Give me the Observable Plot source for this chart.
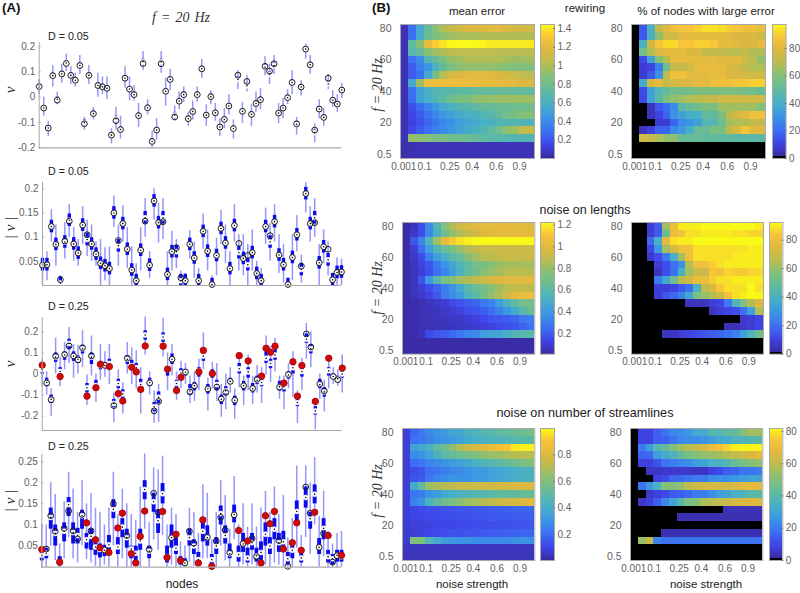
<!DOCTYPE html>
<html><head><meta charset="utf-8">
<script src="https://cdn.jsdelivr.net/npm/d3@7"></script>
<script src="https://cdn.jsdelivr.net/npm/@observablehq/plot@0.6"></script>
<style>
html,body{margin:0;padding:0;background:#fff}
#root{position:relative;width:800px;height:593px;overflow:hidden;font-family:"Liberation Sans",Arial,sans-serif}
#root svg{position:absolute;background:transparent;overflow:visible}
</style></head><body><div id="root"></div>
<script>
// ---------- Panel A data ----------
const v=[.042,-.043,-.122,.085,-.012,.092,.133,.086,.067,.125,-.105,.086,-.065,.046,.041,.035,-.15,-.093,-.128,.075,.032,.01,-.073,.133,-.042,-.175,-.13,.132,.023,.07,-.078,-.016,.01,-.085,-.057,.01,.112,-.071,.002,-.062,-.118,-.088,-.035,-.124,.087,-.056,.062,-.068,-.025,-.01,.122,.103,.132,-.063,-.043,-.002,.058,-.105,.04,.19,.128,-.13,-.047,-.08,.075,-.012,-.027,.028];
const redNodes=[0,4,10,12,13,15,17,18,20,21,22,23,27,28,30,31,35,36,38,44,46,49,50,51,52,54,56,57,58,61,64,67];

const p1Med=[.04,-.043,-.122,.085,-.008,.092,.135,.086,.067,.125,-.1,.086,-.065,.046,.041,.035,-.15,-.085,-.128,.075,.032,.01,-.073,.14,-.042,-.175,-.13,.14,.023,.07,-.07,-.015,.01,-.085,-.057,.01,.112,-.071,.002,-.062,-.118,-.088,-.035,-.124,.07,-.056,.045,-.068,-.025,-.01,.118,.09,.125,-.063,-.043,-.002,.058,-.107,.04,.19,.128,-.14,-.047,-.08,.052,-.012,-.027,.028];
const p1Lo=[.01,-.075,-.155,.04,-.03,.055,.1,.05,.04,.09,-.13,.05,-.09,0,.01,-.01,-.185,-.13,-.165,.035,-.015,-.015,-.12,.105,-.07,-.2,-.17,.095,-.035,.025,-.095,-.05,-.02,-.115,-.09,-.02,.075,-.115,-.03,-.095,-.155,-.125,-.07,-.165,.03,-.105,.02,-.115,-.06,-.05,.085,.05,.09,-.105,-.085,-.03,.01,-.15,.005,.15,.09,-.18,-.085,-.115,.03,-.04,-.06,-.005];
const p1Hi=[.07,0,-.095,.125,.02,.13,.17,.12,.095,.165,-.08,.125,-.04,.095,.08,.08,-.125,-.04,-.075,.12,.08,.045,-.025,.18,-.01,-.135,-.085,.18,.075,.11,-.035,.02,.04,-.06,-.015,.04,.15,-.03,.025,-.025,-.085,-.045,.01,-.09,.105,-.02,.085,-.03,.02,.035,.16,.13,.165,-.025,-.005,.03,.105,-.08,.065,.21,.165,-.105,-.01,-.045,.09,.025,.01,.055];

const p2Med=[.043,.043,.122,.085,.005,.09,.135,.086,.067,.125,.095,.086,.065,.046,.041,.035,.15,.082,.128,.075,.032,.01,.073,.14,.042,.175,.13,.14,.023,.07,.07,.01,.01,.085,.057,.01,.112,.071,.002,.062,.118,.088,.035,.124,.068,.056,.043,.068,.025,.01,.122,.09,.132,.063,.043,.002,.058,.105,.033,.19,.128,.14,.047,.08,.053,.012,.027,.028];
const p2Lo=[0,.01,.09,.04,0,.055,.1,.05,.04,.085,.06,.05,.04,0,.01,0,.12,.04,.09,.035,0,0,.03,.1,.015,.135,.088,.095,0,.03,.035,0,0,.055,.015,0,.075,.03,0,.02,.085,.045,0,.09,.03,.02,0,.03,0,0,.085,.05,.09,.025,.005,0,.01,.07,.005,.15,.09,.1,0,.045,.02,0,0,0];
const p2Hi=[.06,.07,.157,.125,.02,.13,.168,.12,.095,.163,.135,.125,.09,.095,.078,.08,.185,.125,.165,.12,.08,.045,.12,.18,.07,.2,.17,.18,.07,.112,.095,.03,.025,.113,.09,.035,.148,.115,.02,.098,.155,.125,.07,.167,.105,.105,.085,.115,.05,.035,.16,.128,.167,.105,.085,.012,.105,.145,.063,.213,.163,.18,.085,.115,.09,.025,.057,.055];

const p3Med=[.02,-.04,-.12,.08,.012,.09,.145,.085,.07,.12,-.065,.08,-.055,.04,.04,.05,-.14,-.045,-.095,.07,.04,.03,-.05,.185,-.04,-.155,-.11,.175,.02,.07,-.045,.005,.008,-.08,-.055,.015,.085,-.07,0,-.05,-.12,-.08,-.035,-.125,.025,-.055,.01,-.07,-.03,-.04,.075,.05,.09,-.06,-.06,-.005,.03,-.135,.012,.165,.12,-.175,-.05,-.085,.015,-.012,-.022,0];
const p3Q1=[0,-.06,-.14,.055,-.01,.065,.115,.06,.05,.095,-.09,.045,-.08,.02,.025,.03,-.16,-.07,-.12,.045,.02,.01,-.07,.16,-.06,-.18,-.14,.15,-.01,.045,-.07,-.02,-.01,-.1,-.08,-.015,.06,-.095,-.02,-.08,-.145,-.1,-.05,-.15,0,-.08,-.02,-.09,-.05,-.06,.05,.025,.065,-.08,-.085,-.025,0,-.155,-.015,.145,.095,-.195,-.07,-.11,-.01,-.025,-.035,-.02];
const p3Q3=[.04,-.02,-.1,.1,.03,.105,.165,.105,.085,.135,-.045,.1,-.03,.06,.055,.07,-.12,-.025,-.075,.085,.065,.05,-.025,.205,-.02,-.135,-.085,.195,.035,.095,-.03,.025,.02,-.05,-.04,.03,.105,-.05,.02,-.03,-.1,-.06,-.02,-.105,.05,-.035,.03,-.045,-.01,-.02,.105,.07,.115,-.035,-.035,.01,.06,-.11,.035,.19,.14,-.155,-.025,-.065,.03,0,-.01,.015];
const p3Lo=[-.06,-.1,-.2,0,-.06,.02,.05,-.02,0,.03,-.15,-.01,-.135,-.03,-.015,-.05,-.23,-.12,-.19,0,-.05,-.07,-.19,.09,-.1,-.235,-.23,.08,-.08,-.01,-.125,-.07,-.05,-.14,-.13,-.08,.02,-.175,-.07,-.13,-.205,-.17,-.09,-.215,-.065,-.15,-.08,-.145,-.09,-.14,-.005,-.04,.01,-.12,-.17,-.07,-.11,-.235,-.08,.07,.03,-.265,-.12,-.18,-.07,-.05,-.06,-.09];
const p3Hi=[.07,.01,-.07,.17,.08,.15,.22,.14,.135,.205,-.005,.18,0,.14,.105,.14,-.09,.02,-.04,.15,.125,.11,.03,.27,.01,-.08,-.05,.265,.1,.14,.01,.06,.05,-.01,.01,.07,.195,-.02,.055,.05,-.05,0,.03,-.07,.1,-.01,.09,-.01,.04,.03,.18,.13,.17,-.01,-.01,.05,.105,-.08,.075,.24,.2,-.13,0,-.03,.085,.03,.02,.09];

const p4Med=[.028,.033,.118,.08,.012,.085,.148,.082,.075,.122,.065,.073,.048,.042,.04,.053,.137,.048,.095,.07,.043,.033,.062,.184,.038,.155,.11,.174,.025,.07,.045,.015,.01,.07,.05,.018,.085,.07,.018,.05,.127,.075,.032,.125,.03,.055,.022,.058,.027,.035,.078,.05,.09,.058,.06,.02,.04,.132,.022,.165,.115,.173,.047,.092,.025,.02,.028,.025];
const p4Q1=[.015,.02,.09,.05,.003,.06,.12,.055,.055,.09,.043,.04,.028,.022,.025,.03,.115,.03,.07,.045,.02,.01,.04,.16,.02,.13,.08,.15,.01,.045,.03,.005,.003,.05,.03,.005,.06,.05,.003,.03,.1,.055,.02,.105,.012,.035,.01,.04,.012,.015,.05,.03,.065,.035,.035,.005,.02,.11,.01,.14,.09,.15,.03,.065,.01,.005,.012,.012];
const p4Q3=[.045,.045,.14,.1,.025,.105,.165,.105,.092,.135,.08,.09,.065,.055,.052,.075,.16,.07,.115,.09,.05,.05,.09,.205,.05,.175,.135,.198,.05,.1,.07,.025,.02,.09,.065,.035,.105,.098,.03,.07,.145,.098,.055,.147,.05,.08,.045,.08,.045,.06,.105,.07,.115,.08,.085,.035,.06,.157,.04,.19,.13,.195,.068,.115,.04,.03,.04,.04];
const p4Lo=[0,0,.05,.015,0,.02,.07,.02,.01,.05,.018,.01,.002,0,.005,0,.05,0,.02,0,0,0,0,.09,0,.065,.04,.075,0,.005,0,0,0,.012,.002,0,.02,.02,0,0,.05,.015,0,.065,0,.005,0,.005,0,0,.005,0,.01,.005,0,0,0,.045,0,.07,.03,.1,0,.025,0,0,0,0];
const p4Hi=[.1,.1,.2,.172,.055,.155,.225,.185,.13,.205,.15,.175,.14,.13,.1,.14,.225,.125,.185,.15,.125,.11,.19,.268,.105,.235,.23,.263,.1,.14,.125,.06,.05,.14,.13,.08,.195,.175,.065,.13,.205,.17,.09,.215,.1,.15,.095,.15,.095,.14,.18,.13,.19,.125,.17,.07,.115,.24,.075,.24,.2,.26,.12,.18,.085,.055,.08,.085];

// ---------- Panel B data ----------
const freqLabels=["80","75","70","65","60","55","50","45","40","35","30","25","20","15","10","5","0.5"];
const yTickLabels=["80","60","40","20","0.5"];
const noiseLabels=["0.001","0.1","0.25","0.4","0.6","0.9"];
const noiseTickCols=[.42,3.04,6.25,9.1,12.15,15.1];

const rewiringMean=[
[.05,.3,.55,.75,.88,1,1.05,1.1,1.15,1.15,1.17,1.18,1.18,1.15,1.13,1.12,1.1],
[.05,.3,.55,.78,.85,.9,.95,.97,.98,.98,1,1,1,1,1,1,1],
[.05,.72,.9,1.22,1.32,1.38,1.43,1.44,1.44,1.44,1.42,1.4,1.4,1.4,1.4,1.4,1.4],
[.05,.68,.75,.9,.95,1,1.03,1.05,1.05,1.05,1.05,1.05,1.03,1.02,1.02,1.03,1.03],
[.05,.3,.4,.65,.75,.85,.92,.95,1,1,1,1,1,.98,.95,.95,.97],
[.05,.22,.35,.45,.6,.75,.85,.9,.92,.92,.92,.92,.9,.88,.87,.87,.87],
[.05,.22,.3,.55,.8,1.02,1.13,1.15,1.18,1.18,1.18,1.17,1.15,1.12,1.1,1.05,1.03],
[.05,.55,.95,1.25,1.25,1.25,1.25,1.25,1.25,1.24,1.22,1.22,1.2,1.2,1.18,1.15,1.15],
[.05,.3,.5,.6,.65,.68,.7,.72,.72,.74,.75,.75,.75,.75,.75,.73,.73],
[.05,.28,.5,.58,.65,.72,.8,.85,.85,.9,.92,.93,.95,.95,.95,.95,.95],
[.05,.18,.28,.38,.45,.55,.6,.65,.68,.72,.75,.75,.78,.78,.8,.8,.8],
[.05,.15,.22,.3,.38,.45,.5,.55,.58,.6,.65,.68,.75,.8,.85,.88,.88],
[.05,.12,.18,.25,.32,.38,.42,.48,.52,.55,.58,.6,.65,.65,.65,.65,.62],
[.05,.15,.22,.3,.35,.4,.45,.5,.55,.6,.65,.72,.8,.9,.95,1.05,1.08],
[.05,.92,.9,.88,.85,.85,.8,.8,.78,.75,.72,.7,.7,.68,.65,.65,.65],
[.03,.04,.05,.05,.05,.05,.05,.05,.05,.05,.05,.05,.05,.05,.05,.05,.05],
[.03,.04,.04,.04,.04,.04,.04,.04,.04,.04,.04,.04,.04,.04,.04,.04,.04]];
const rewiringPct=[
[0,15,42,72,80,85,87,88,90,93,93,92,90,88,85,85,83],
[0,15,42,62,75,75,80,80,82,82,82,82,80,78,78,78,75],
[0,42,75,88,92,92,88,88,90,90,88,82,82,80,78,78,82],
[0,55,68,78,80,82,82,78,78,72,72,72,70,70,72,68,68],
[0,12,35,60,70,82,82,82,82,80,80,78,80,80,75,70,62],
[0,8,10,25,55,72,72,75,82,83,83,83,78,76,72,68,68],
[0,8,15,30,72,85,85,82,80,80,82,82,78,78,76,75,75],
[0,38,78,82,72,75,78,78,80,80,85,85,85,88,88,90,90],
[0,12,35,45,52,55,55,55,58,58,58,58,58,58,55,55,52],
[0,12,35,48,58,62,65,68,70,72,72,75,75,75,75,75,75],
[0,0,5,15,20,28,48,52,55,58,58,65,65,65,65,65,60],
[0,0,5,10,18,30,35,40,40,50,50,58,72,76,80,85,85],
[0,0,0,8,8,18,28,30,35,45,45,55,65,68,68,72,72],
[0,5,10,18,18,28,32,40,52,52,58,58,70,78,88,80,80],
[0,75,72,68,62,62,52,52,52,50,50,50,50,48,48,48,48],
[0,0,0,0,0,0,0,0,0,0,0,0,0,0,0,0,0],
[0,0,0,0,0,0,0,0,0,0,0,0,0,0,0,0,0]];
const lengthsMean=[
[.02,.06,.15,.35,.55,.75,.85,.95,.98,1,1.02,1.03,1.03,1.03,1.02,1.02,1],
[.02,.08,.15,.33,.5,.68,.78,.85,.9,.95,.98,1,1.02,1.02,1.03,1.02,1.02],
[.02,.18,.32,.55,.82,1.03,1.12,1.17,1.2,1.22,1.22,1.22,1.22,1.22,1.22,1.22,1.22],
[.02,.1,.25,.42,.55,.65,.72,.8,.85,.9,.92,.92,.92,.93,.93,.93,.93],
[.02,.08,.15,.3,.42,.5,.6,.65,.75,.82,.87,.88,.9,.92,.92,.92,.92],
[.02,.06,.12,.18,.28,.38,.45,.55,.62,.7,.72,.75,.8,.82,.82,.83,.83],
[.02,.06,.1,.16,.25,.32,.42,.52,.62,.68,.75,.8,.82,.87,.88,.88,.88],
[.02,.06,.18,.38,.58,.72,.75,.82,.85,.9,.92,.97,.98,1,1,1,1],
[.02,.06,.1,.16,.22,.3,.38,.48,.58,.65,.7,.75,.82,.87,.9,.9,.88],
[.02,.05,.08,.12,.18,.3,.35,.42,.52,.62,.7,.78,.85,.95,1.02,1.05,1.05],
[.02,.03,.04,.06,.08,.1,.14,.17,.2,.22,.28,.32,.42,.52,.62,.7,.7],
[.02,.03,.04,.05,.06,.08,.1,.12,.15,.17,.2,.25,.32,.4,.48,.58,.65],
[.02,.03,.04,.05,.06,.06,.08,.08,.1,.12,.14,.17,.18,.2,.22,.28,.3],
[.02,.03,.04,.04,.05,.05,.06,.07,.08,.09,.1,.12,.14,.16,.18,.22,.26],
[.02,.03,.05,.14,.18,.2,.24,.28,.32,.35,.42,.45,.45,.5,.55,.58,.6],
[.02,.02,.02,.02,.02,.02,.02,.02,.02,.02,.02,.02,.02,.02,.02,.02,.02],
[.02,.02,.02,.02,.02,.02,.02,.02,.02,.02,.02,.02,.02,.02,.02,.02,.02]];
const lengthsPct=[
[0,0,8,15,62,80,90,90,90,92,92,92,92,92,92,92,90],
[0,0,8,15,50,80,82,88,88,90,90,90,90,88,88,86,86],
[0,0,18,38,76,88,90,90,92,92,92,92,92,92,92,92,92],
[0,0,10,30,62,72,80,82,88,88,88,88,88,88,88,90,90],
[0,0,6,12,22,38,62,80,88,88,88,88,88,90,90,90,90],
[0,0,0,8,12,20,28,65,80,82,85,88,90,90,90,90,90],
[0,0,0,5,12,20,38,62,70,70,84,82,86,85,84,86,86],
[0,0,0,22,35,52,66,72,78,80,85,88,88,90,90,90,90],
[0,0,0,8,8,10,15,20,40,68,74,84,88,88,88,92,88],
[0,0,0,8,14,18,24,35,55,60,65,70,82,88,90,92,92],
[0,0,0,0,0,0,0,5,5,5,8,10,22,42,55,65,75],
[0,0,0,0,0,0,0,0,0,0,5,8,10,12,20,32,65],
[0,0,0,0,0,0,0,0,0,0,0,0,0,0,6,8,10],
[0,0,0,0,0,0,0,0,0,0,0,0,4,4,6,8,10],
[0,0,0,0,5,5,8,10,12,14,16,17,20,24,32,42,52],
[0,0,0,0,0,0,0,0,0,0,0,0,0,0,0,0,0],
[0,0,0,0,0,0,0,0,0,0,0,0,0,0,0,0,0]];
const streamMean=[
[.08,.18,.22,.27,.3,.33,.36,.38,.42,.44,.46,.48,.5,.52,.53,.55,.58],
[.08,.2,.22,.25,.28,.3,.32,.35,.38,.4,.42,.43,.44,.45,.47,.48,.48],
[.08,.35,.38,.42,.5,.55,.62,.7,.75,.78,.82,.85,.88,.9,.96,.98,.98],
[.08,.28,.3,.35,.42,.48,.52,.55,.58,.6,.62,.65,.65,.68,.7,.7,.7],
[.08,.2,.22,.25,.28,.3,.33,.35,.38,.42,.44,.46,.48,.52,.55,.58,.6],
[.08,.12,.14,.2,.22,.24,.26,.28,.3,.32,.33,.35,.37,.38,.4,.42,.42],
[.08,.14,.15,.22,.26,.28,.3,.3,.3,.32,.33,.35,.37,.38,.4,.42,.42],
[.08,.38,.5,.65,.68,.7,.72,.75,.75,.76,.76,.76,.78,.78,.8,.8,.8],
[.08,.22,.24,.3,.33,.38,.4,.42,.44,.46,.46,.48,.5,.5,.5,.52,.52],
[.08,.25,.3,.42,.5,.55,.58,.62,.65,.68,.7,.73,.75,.77,.78,.8,.82],
[.08,.1,.11,.12,.12,.13,.13,.14,.14,.15,.15,.16,.16,.16,.17,.18,.18],
[.08,.1,.1,.11,.11,.12,.12,.13,.13,.14,.14,.15,.15,.15,.15,.16,.16],
[.07,.08,.08,.09,.1,.1,.1,.11,.11,.12,.12,.12,.13,.13,.13,.14,.14],
[.07,.08,.09,.1,.11,.12,.13,.13,.14,.14,.15,.16,.16,.17,.17,.18,.18],
[.07,.6,.6,.45,.38,.33,.32,.3,.3,.28,.28,.28,.28,.28,.3,.3,.3],
[.05,.05,.05,.05,.05,.05,.05,.05,.05,.05,.05,.05,.05,.05,.05,.05,.05],
[.04,.04,.04,.04,.04,.04,.04,.04,.04,.04,.04,.04,.04,.04,.04,.04,.04]];
const streamPct=[
[0,8,8,14,18,22,24,26,32,32,38,38,42,42,50,55,55],
[0,8,8,14,14,18,22,24,24,26,28,32,32,36,36,38,40],
[0,20,28,38,42,50,55,58,62,64,70,72,76,80,81,81,81],
[0,15,16,28,32,36,42,48,50,52,54,55,58,60,62,65,68],
[0,8,8,12,18,20,22,24,28,30,34,36,38,44,48,50,52],
[0,0,5,5,6,6,6,6,5,5,8,10,14,15,18,18,20],
[0,0,0,8,10,15,16,18,20,20,24,25,24,26,28,30,30],
[0,18,26,34,50,50,52,60,62,64,64,64,64,66,68,68,68],
[0,0,6,8,10,13,14,16,20,20,24,28,30,34,36,40,40],
[0,5,8,14,22,30,38,48,50,56,58,60,62,64,66,66,66],
[0,0,0,0,0,0,0,0,0,0,0,0,4,4,4,4,4],
[0,0,0,0,0,0,3,3,3,3,3,3,3,3,3,3,3],
[0,0,0,0,0,0,0,0,0,0,0,0,0,0,0,0,0],
[0,0,0,0,3,3,3,3,3,3,3,3,3,3,3,3,3],
[0,54,62,22,18,18,18,18,18,18,18,18,18,18,18,18,18],
[0,0,0,0,0,0,0,0,0,0,0,0,0,0,0,0,0],
[0,0,0,0,0,0,0,0,0,0,0,0,0,0,0,0,0]];

// ---------- helpers ----------
const root=document.getElementById("root");
const GRAY="#a8a8a8", TXT="#5f5f5f";
function place(svg,l,t){svg.style.left=l+"px";svg.style.top=t+"px";root.appendChild(svg);}

function nodePanel({med,q1,q3,lo,hi,ring,red,yDom,yPx,ticks,left,right,boxW}){
  const rows=med.map((m,i)=>({i,m,q1:q1(i),q3:q3(i),lo:lo[i],hi:hi[i],ring:ring[i]}));
  const [top,bottom]=yPx;
  const marks=[
    Plot.ruleX(rows,{x:"i",y1:"lo",y2:"hi",stroke:"#9696fb",strokeWidth:1.5}),
    Plot.ruleX(rows,{x:"i",y1:"q1",y2:"q3",stroke:"#0a0aee",strokeWidth:boxW}),
    Plot.dot(rows,{x:"i",y:"m",r:2.5,fill:"#fff",stroke:"#fff",strokeWidth:.6}),
    Plot.dot(rows,{x:"i",y:"m",r:.8,fill:"#000",stroke:"none"}),
    Plot.dot(rows,{x:"i",y:"ring",r:2.9,fill:"none",stroke:"#1c1c1c",strokeWidth:1}),
    Plot.dot(rows.filter(d=>red.includes(d.i)),{x:"i",y:"ring",r:3.3,fill:"#cf0a0a",stroke:"#a00",strokeWidth:.4}),
    Plot.axisY({ticks,tickFormat:d=>String(d),tickSize:-2,tickPadding:6,stroke:GRAY,fill:TXT,fontSize:10,fontFamily:"Liberation Sans",label:null}),
    Plot.ruleY([yDom[0]],{stroke:GRAY,strokeWidth:1.2}),
    Plot.frame({anchor:"left",stroke:GRAY})
  ];
  const svg=Plot.plot({width:360,height:bottom+2,marginLeft:left,marginRight:360-right,marginTop:top,marginBottom:2,
    style:{background:"transparent",overflow:"visible"},
    x:{domain:[0,67],axis:null},y:{domain:yDom,axis:null},marks});
  place(svg,0,0);
}

const absV=v.map(Math.abs);
nodePanel({med:p1Med,q1:i=>p1Med[i]-.01,q3:i=>p1Med[i]+.01,lo:p1Lo,hi:p1Hi,ring:v,red:[],yDom:[-.2,.216],yPx:[42,147.3],ticks:[-.2,-.1,0,.1,.2],left:38.7,right:341.3,boxW:3});
nodePanel({med:p2Med,q1:i=>Math.max(0,p2Med[i]-.013),q3:i=>p2Med[i]+.013,lo:p2Lo,hi:p2Hi,ring:absV,red:[],yDom:[0,.213],yPx:[182,285],ticks:[.05,.1,.15,.2],left:42,right:341,boxW:3.4});
nodePanel({med:p3Med,q1:i=>p3Q1[i],q3:i=>p3Q3[i],lo:p3Lo,hi:p3Hi,ring:v,red:redNodes,yDom:[-.268,.268],yPx:[317,430],ticks:[-.2,-.1,0,.1,.2],left:41.7,right:341.7,boxW:3.4});
nodePanel({med:p4Med,q1:i=>p4Q1[i],q3:i=>p4Q3[i],lo:p4Lo,hi:p4Hi,ring:absV,red:redNodes,yDom:[0,.267],yPx:[454,566.7],ticks:[.05,.1,.15,.2,.25],left:41.3,right:341,boxW:3.9});

// parula-like colour map
const parulaT=[0,.1,.2,.3,.4,.5,.6,.7,.8,.9,1];
const parulaC=["#3a2aa0","#3f45e8","#3c70f2","#3b94e6","#47afc8","#5fbaa0","#7fc07c","#b5bd52","#dcb840","#f7c33a","#f9fb15"];

function colorScale(min,max,hasBlack){
  let domain=parulaT.map(t=>min+t*(max-min)), range=parulaC.slice();
  if(hasBlack){
    const e=.015*(max-min);
    domain=parulaT.map(t=>e+t*(max-e));
    domain=[0,e*.999,...domain]; range=["#000","#000",...range];
  }
  return {type:"linear",domain,range,clamp:true};
}
function heat(matrix,box,min,max,hasBlack,cbX,cbTicks){
  const [x0,x1,y0,y1]=box;
  const cells=matrix.flatMap((row,r)=>row.map((val,c)=>({r,c,val})));
  const color=colorScale(min,max,hasBlack);
  const tickRows=yTickLabels.map(l=>freqLabels.indexOf(l)+.5);
  const svg=Plot.plot({width:x1-x0+50,height:y1-y0+30,marginLeft:40,marginRight:10,marginTop:5,marginBottom:25,
    style:{background:"transparent",overflow:"visible"},
    x:{domain:[0,17],axis:null},y:{domain:[0,17],reverse:true,axis:null},color,
    marks:[
      Plot.rect(cells,{x1:"c",x2:d=>d.c+1,y1:"r",y2:d=>d.r+1,fill:"val",shapeRendering:"crispEdges",inset:0}),
      Plot.frame({stroke:GRAY}),
      Plot.axisX({anchor:"bottom",ticks:noiseTickCols,tickFormat:(d,i)=>noiseLabels[i],tickSize:0,tickPadding:4,fill:TXT,fontSize:10,fontFamily:"Liberation Sans",label:null}),
      Plot.axisY({anchor:"left",ticks:tickRows,tickFormat:(d,i)=>yTickLabels[i],tickSize:0,tickPadding:9,fill:TXT,fontSize:10.5,fontFamily:"Liberation Sans",label:null})
    ]});
  place(svg,x0-40,y0-5);
  // colour bar
  const lo=hasBlack?0:min;
  const steps=d3.range(0,128).map(k=>({a:lo+(max-lo)*k/128,b:lo+(max-lo)*(k+1)/128}));
  const bar=Plot.plot({width:(cbX[1]-cbX[0])+40,height:y1-y0+10,marginLeft:0,marginRight:40,marginTop:5,marginBottom:5,
    style:{background:"transparent",overflow:"visible"},
    x:{domain:[0,1],axis:null},y:{domain:[lo,max],axis:null},color,
    marks:[
      Plot.rect(steps,{x1:0,x2:1,y1:"a",y2:"b",fill:d=>(d.a+d.b)/2,shapeRendering:"crispEdges"}),
      Plot.frame({stroke:GRAY}),
      Plot.axisY({anchor:"right",ticks:cbTicks,tickFormat:d=>String(d),tickSize:-2,tickPadding:5,stroke:"#777",fill:TXT,fontSize:10,fontFamily:"Liberation Sans",label:null})
    ]});
  place(bar,cbX[0],y0-5);
}
heat(rewiringMean,[400,534,24.3,158.3],.003,1.443,false,[540,554],[.2,.4,.6,.8,1,1.2,1.4]);
heat(rewiringPct,[631.3,765.3,24.3,158.3],0,97.5,true,[771.7,785.3],[0,20,40,60,80]);
heat(lengthsMean,[401.7,534,222.3,354],.01,1.225,false,[540,554],[.2,.4,.6,.8,1,1.2]);
heat(lengthsPct,[630.7,762.7,222.3,354],0,92.4,true,[769.3,782.7],[0,20,40,60,80]);
heat(streamMean,[401.7,534,428,560],.004,.998,false,[540,554],[.2,.4,.6,.8]);
heat(streamPct,[630,762.3,428,560],0,81.8,true,[768.7,782],[0,20,40,60,80]);

// ---------- text overlay ----------
const NS="http://www.w3.org/2000/svg";
const ov=document.createElementNS(NS,"svg");
ov.setAttribute("width",800);ov.setAttribute("height",593);ov.style.left="0";ov.style.top="0";root.appendChild(ov);
function T(x,y,s,o={}){
  const t=document.createElementNS(NS,"text");
  t.textContent=s;
  t.setAttribute("x",x);t.setAttribute("y",y);
  t.setAttribute("text-anchor",o.anchor||"middle");
  t.setAttribute("font-size",o.size||11.5);
  t.setAttribute("font-family",o.family||"Liberation Sans");
  t.setAttribute("fill",o.fill||"#222");
  if(o.weight)t.setAttribute("font-weight",o.weight);
  if(o.style)t.setAttribute("font-style",o.style);
  if(o.ws)t.setAttribute("word-spacing",o.ws);
  if(o.rot)t.setAttribute("transform",`rotate(${o.rot} ${x} ${y})`);
  ov.appendChild(t);
}
const serif={family:"Liberation Serif",style:"italic",size:14,fill:"#333"};
T(2,12,"(A)",{anchor:"start",size:13.2,weight:"bold",fill:"#111"});
T(372,12,"(B)",{anchor:"start",size:13.2,weight:"bold",fill:"#111"});
T(181,22,"f = 20 Hz",{...serif,ws:1.5});
T(48,40,"D = 0.05",{anchor:"start",size:10.7});
T(48,175,"D = 0.05",{anchor:"start",size:10.7});
T(48,310,"D = 0.25",{anchor:"start",size:10.7});
T(48,450,"D = 0.25",{anchor:"start",size:10.7});
T(182,588,"nodes",{size:12});
T(15,90,"ν",{...serif,rot:-90,size:15});
T(15,228,"| ν |",{...serif,rot:-90,size:15});
T(15,364,"ν",{...serif,rot:-90,size:15});
T(15,501,"| ν |",{...serif,rot:-90,size:15});
T(477,15,"mean error");
T(585,12,"rewiring");
T(706,15,"% of nodes with large error");
T(585,214,"noise on lengths",{size:12.5});
T(585,417,"noise on number of streamlines",{size:12.7});
T(472,588,"noise strength");
T(706,588,"noise strength");
for(const y of [85,288,491]) T(382,y,"f = 20 Hz",{...serif,rot:-90});
</script></body></html>
